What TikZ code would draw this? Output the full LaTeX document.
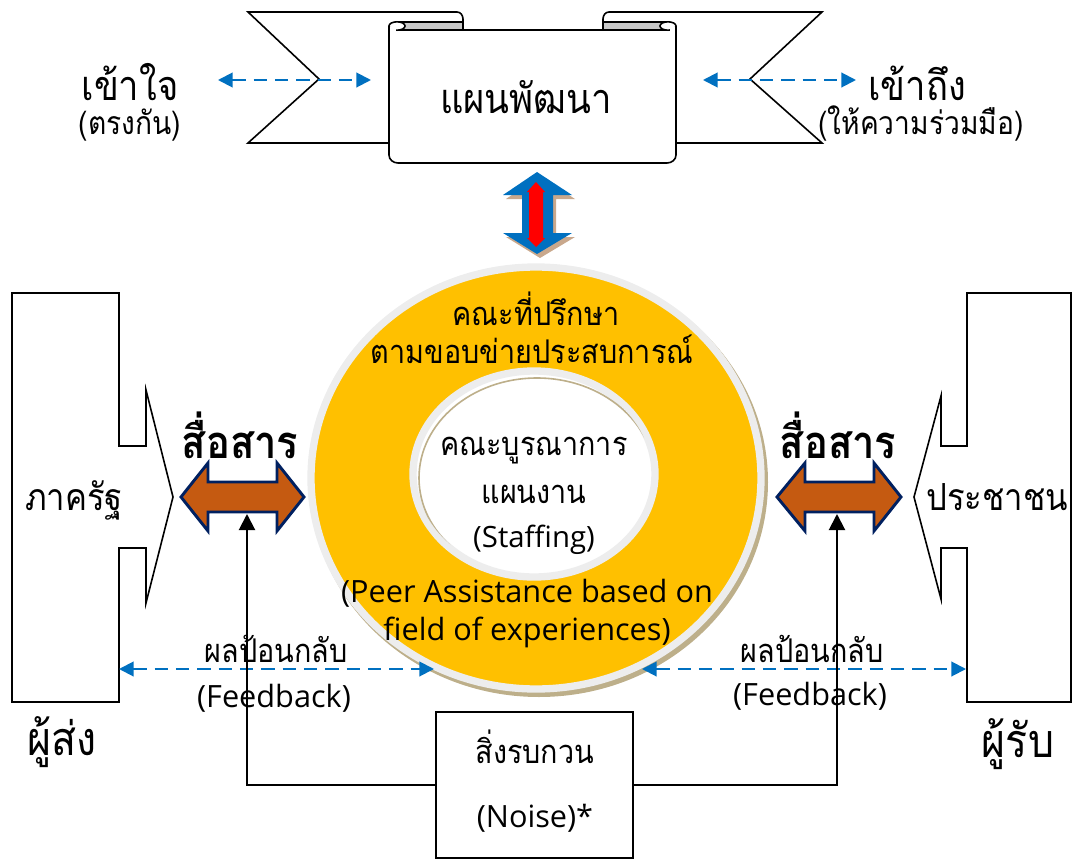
\documentclass[tikz,border=0pt]{standalone}
\usepackage{fontspec}
\newfontfamily\thaifont[Script=Thai, FakeStretch=0.88]{Loma}
\newfontfamily\latfont{Open Sans}
\usetikzlibrary{arrows.meta}
\definecolor{ringyellow}{HTML}{FFC000}
\definecolor{ringgrey}{HTML}{EDEDED}
\definecolor{ringtan}{HTML}{BDAF8A}
\definecolor{myblue}{HTML}{0070C0}
\definecolor{myorange}{HTML}{C55A11}
\definecolor{mynavy}{HTML}{002060}
\definecolor{shadowtan}{HTML}{C9A88C}
\definecolor{rollgrey}{HTML}{C8C8C8}
\begin{document}
\begin{tikzpicture}[x=0.75pt,y=-0.75pt,
  txt/.style={inner sep=0pt, anchor=base, text=black, text height=0.72em, text depth=0.12em},
  th/.style={txt, font=\thaifont\fontsize{24.5}{28}\selectfont},
  thmid/.style={txt, font=\thaifont\fontsize{24}{28}\selectfont},
  thside/.style={txt, font=\thaifont\fontsize{28}{32}\selectfont},
  thbig/.style={txt, font=\thaifont\fontsize{31}{36}\selectfont},
  thhuge/.style={txt, font=\thaifont\fontsize{35}{40}\selectfont},
  thbold/.style={txt, font=\thaifont\bfseries\fontsize{34}{38}\selectfont},
  lat/.style={txt, font=\latfont\fontsize{23}{27}\selectfont},
  outline/.style={draw=black, line width=1.2pt, fill=white, line join=miter},
  fb/.style={draw=myblue, line width=1.5pt, dash pattern=on 10pt off 6pt,
    {Triangle[length=11pt,width=11pt,fill=myblue]}-{Triangle[length=11pt,width=11pt,fill=myblue]}},
  blk/.style={draw=black, line width=1.5pt, -{Triangle[length=12pt,width=12pt]}},
  comm/.style={fill=myorange, draw=mynavy, line width=2.2pt, line join=miter}
]
\useasboundingbox (0,0) rectangle (1079,860);

% ---------- banner ----------
\filldraw[outline] (248,12) -- (457,12) to[out=0,in=90] (463,19) -- (463,143) -- (248,143) -- (319,79) -- cycle;
\filldraw[outline] (822,12) -- (609,12) to[out=180,in=90] (603,19) -- (603,143) -- (822,143) -- (750,79) -- cycle;
\filldraw[outline] (389,30) -- (389,155) to[out=-90,in=180] (398,163) -- (667,163) to[out=0,in=-90] (676,155) -- (676,30) -- cycle;
\filldraw[outline, fill=rollgrey] (397,22) -- (463,22) -- (463,30) -- (397,30) -- cycle;
\filldraw[outline, fill=rollgrey] (603,22) -- (668,22) -- (668,30) -- (603,30) -- cycle;
\filldraw[outline] (397,26) ellipse [x radius=8, y radius=4.2];
\filldraw[outline] (668,26) ellipse [x radius=8, y radius=4.2];
\fill[white] (390.2,27) rectangle (396,31.5);
\draw[black, line width=1.2pt] (389,26) -- (389,32);
\fill[white] (670,27) rectangle (675.4,31.5);
\draw[black, line width=1.2pt] (676,26) -- (676,32);
\node[thbig] (plan) at (526,113) {แผนพัฒนา};

\coordinate (la1) at (218,80); \coordinate (la2) at (371,80);
\coordinate (ra1) at (703,80); \coordinate (ra2) at (856,80);
\draw[fb] (la1) -- (la2);
\draw[fb] (ra1) -- (ra2);
\node[thbig] (understand) at (130,100) {เข้าใจ};
\node[thmid] (direct) at (130,134) {(ตรงกัน)};
\node[thbig] (reach) at (917,100) {เข้าถึง};
\node[thmid] (coop) at (921,134) {(ให้ความร่วมมือ)};

% ---------- vertical arrow ----------
\begin{scope}[shift={(3,4)}]
\fill[shadowtan] (537,172) -- (572,195) -- (553,195) -- (553,233) -- (572,233) -- (537,254) -- (503,233) -- (522,233) -- (522,195) -- (503,195) -- cycle;
\end{scope}
\fill[myblue] (537,172) -- (572,195) -- (553,195) -- (553,233) -- (572,233) -- (537,254) -- (503,233) -- (522,233) -- (522,195) -- (503,195) -- cycle;
\fill[red] (536,182) -- (545,192) -- (543,192) -- (543,238) -- (545,238) -- (536,247) -- (527,238) -- (529,238) -- (529,192) -- (527,192) -- cycle;

% ---------- ring ----------
\fill[ringtan] (539,482) ellipse [x radius=229, y radius=215];
\filldraw[fill=ringyellow, draw=ringgrey, line width=5.5pt] (536,478) ellipse [x radius=225, y radius=211];
\filldraw[fill=white, draw=ringgrey, line width=5.5pt] (534,474) ellipse [x radius=121, y radius=103];
\begin{scope}
\clip (534,474) ellipse [x radius=118, y radius=100];
\draw[ringtan, line width=1.2pt] (537,478) ellipse [x radius=118, y radius=100];
\end{scope}
\node[th] (adv1) at (536,325) {คณะที่ปรึกษา};
\node[th] (adv2) at (532,363) {ตามขอบข่ายประสบการณ์};
\node[th] (int1) at (534,455) {คณะบูรณาการ};
\node[th] (int2) at (534,503) {แผนงาน};
\node[lat, font=\latfont\fontsize{22}{26}\selectfont] (int3) at (534,547) {(Staffing)};
\node[lat] (peer1) at (527,602) {(Peer Assistance based on};
\node[lat] (peer2) at (527,640) {field of experiences)};

% ---------- sender / receiver ----------
\filldraw[outline] (12,293) -- (119,293) -- (119,446) -- (146,446) -- (146,390) -- (173,497) -- (146,603) -- (146,548) -- (119,548) -- (119,702) -- (12,702) -- cycle;
\filldraw[outline] (1071,293) -- (967,293) -- (967,446) -- (941,446) -- (941,396) -- (914,497) -- (941,599) -- (941,548) -- (967,548) -- (967,702) -- (1071,702) -- cycle;
\node[thside] (gov) at (74,510) {ภาครัฐ};
\node[thside] (people) at (997,510) {ประชาชน};
\node[thhuge] (sender) at (62,755) {ผู้ส่ง};
\node[thhuge] (receiver) at (1018,757) {ผู้รับ};

% ---------- communication arrows ----------
\filldraw[comm] (181,497) -- (208,463) -- (208,482) -- (277,482) -- (277,463) -- (304,497) -- (277,531) -- (277,512) -- (208,512) -- (208,531) -- cycle;
\filldraw[comm] (777,497) -- (805,463) -- (805,482) -- (874,482) -- (874,463) -- (901,497) -- (874,531) -- (874,512) -- (805,512) -- (805,531) -- cycle;
\node[thbold] (commL) at (240,458) {สื่อสาร};
\node[thbold] (commR) at (838,458) {สื่อสาร};

% ---------- feedback ----------
\coordinate (fl1) at (119,669); \coordinate (fl2) at (434,669);
\coordinate (fr1) at (642,669); \coordinate (fr2) at (966,669);
\draw[fb] (fl1) -- (fl2);
\draw[fb] (fr1) -- (fr2);
\node[th] (fbL1) at (276,662) {ผลป้อนกลับ};
\node[lat] (fbL2) at (274,707) {(Feedback)};
\node[th] (fbR1) at (812,662) {ผลป้อนกลับ};
\node[lat] (fbR2) at (810,705) {(Feedback)};

% ---------- noise ----------
\node[draw=black, line width=1.2pt, minimum width=197*0.75pt, minimum height=146*0.75pt, inner sep=0pt] (noise) at (534.5,785) {};
\node[th] (noise1) at (535,763) {สิ่งรบกวน};
\node[lat] (noise2) at (535,827) {(Noise)*};
\coordinate (lup) at (247,514);
\coordinate (rup) at (837,514);
\draw[blk] (noise.west) -| (lup);
\draw[blk] (noise.east) -| (rup);
\end{tikzpicture}
\end{document}
